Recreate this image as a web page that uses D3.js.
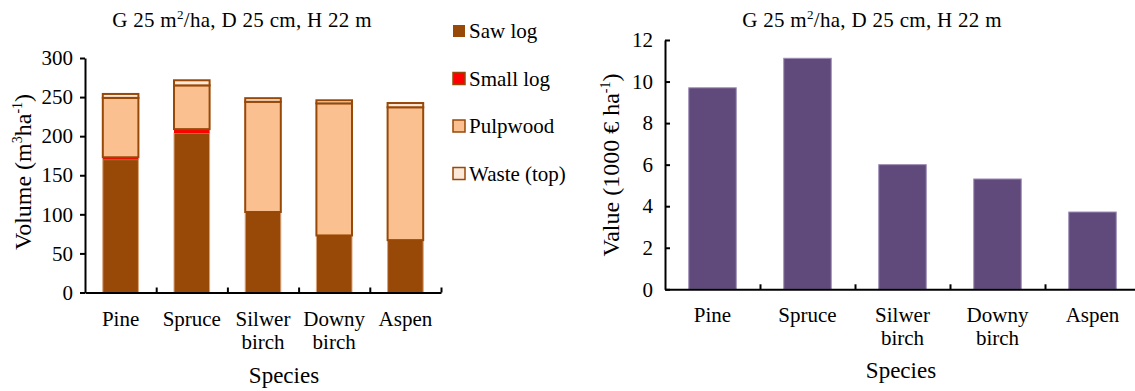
<!DOCTYPE html>
<html>
<head>
<meta charset="utf-8">
<script src="https://cdn.jsdelivr.net/npm/d3@7"></script>
<style>
  body { margin: 0; background: #fff; }
  svg text { font-family: "Liberation Serif", "Times New Roman", serif; }
</style>
</head>
<body>
<svg id="chart" width="1135" height="391"></svg>
<script>
// Daten
const species = ["Pine", "Spruce", "Silwer birch", "Downy birch", "Aspen"];
const speciesLines = [["Pine"], ["Spruce"], ["Silwer", "birch"], ["Downy", "birch"], ["Aspen"]];
const assortments = ["Saw log", "Small log", "Pulpwood", "Waste (top)"];
const sawLog = [170, 204, 103, 73, 67];
const smallLog = [3, 5, 0, 0, 0];
const pulpwood = [76, 56, 141, 169, 170];
const waste = [5, 6.5, 4.6, 3.9, 5.4];
const volumeTicks = [0, 50, 100, 150, 200, 250, 300];
const value = [9.70, 11.12, 6.0, 5.31, 3.72];
const valueTicks = [0, 2, 4, 6, 8, 10, 12];

const fills = ["#984807", "#ff0000", "#fac090", "#fde9d9"];
const strokes = ["#d9a37a", "none", "#984807", "#984807"];
const strokeW = [1, 0, 2, 2];

const FONT = "Liberation Serif, Times New Roman, serif";
const svg = d3.select("#chart").attr("font-family", FONT);

function title(g, x, y) {
    const t = g.append("text")
        .attr("x", x).attr("y", y)
        .attr("text-anchor", "middle")
        .attr("font-size", "21px")
        .attr("letter-spacing", "0.3px");
    t.append("tspan").text("G 25 m");
    t.append("tspan").attr("font-size", "13px").attr("dy", -8).text("2");
    t.append("tspan").attr("dy", 8).text("/ha, D 25 cm, H 22 m");
}

function categoryLabels(g, x, y) {
    speciesLines.forEach((lines, i) => {
        lines.forEach((s, j) => {
            g.append("text")
                .attr("x", x(species[i]) + x.bandwidth() / 2)
                .attr("y", y + j * 23)
                .attr("text-anchor", "middle")
                .attr("font-size", "21px")
                .text(s);
        });
    });
}

function styleAxis(ax) {
    ax.attr("font-family", FONT);
    ax.select(".domain").attr("stroke-width", 2);
    ax.selectAll(".tick line").attr("stroke-width", 2);
    ax.selectAll("text").attr("font-size", "21px").attr("fill", "#000");
}

// ---------- Linkes Diagramm: Volumen ----------
const L = { left: 85, right: 441, top: 58, bottom: 292.5 };
const xL = d3.scaleBand().domain(species).range([L.left, L.right])
    .paddingInner(0.5).paddingOuter(0.25);
const yL = d3.scaleLinear().domain([0, 300]).range([L.bottom, L.top]);

const stackData = species.map((s, i) => ({
    species: s,
    "Saw log": sawLog[i],
    "Small log": smallLog[i],
    "Pulpwood": pulpwood[i],
    "Waste (top)": waste[i]
}));
const series = d3.stack().keys(assortments)(stackData);

const left = svg.append("g");
series.forEach((ser, k) => {
    left.append("g")
        .selectAll("rect")
        .data(ser.filter(d => d[1] - d[0] > 0))
        .join("rect")
        .attr("x", d => xL(d.data.species))
        .attr("width", xL.bandwidth())
        .attr("y", d => yL(d[1]))
        .attr("height", d => yL(d[0]) - yL(d[1]))
        .attr("fill", fills[k])
        .attr("stroke", strokes[k])
        .attr("stroke-width", strokeW[k]);
});

// Achsen links
const yAxisL = left.append("g")
    .attr("transform", `translate(${L.left},0)`)
    .call(d3.axisLeft(yL).tickValues(volumeTicks).tickSize(5).tickSizeOuter(0).tickPadding(7));
styleAxis(yAxisL);

const xTicksL = d3.scaleLinear().domain([0, 5]).range([L.left, L.right]);
const xAxisL = left.append("g")
    .attr("transform", `translate(0,${L.bottom})`)
    .call(d3.axisBottom(xTicksL).ticks(5).tickSize(-5).tickSizeOuter(0).tickFormat(""));
styleAxis(xAxisL);
xAxisL.selectAll(".tick").filter(d => d === 0).remove();

categoryLabels(left, xL, 326);
title(left, 242, 27);

left.append("text")
    .attr("x", 284).attr("y", 383)
    .attr("text-anchor", "middle")
    .attr("font-size", "23px")
    .text("Species");

const yLabL = left.append("text")
    .attr("transform", "translate(31,172) rotate(-90)")
    .attr("text-anchor", "middle")
    .attr("font-size", "24px");
yLabL.append("tspan").text("Volume (m");
yLabL.append("tspan").attr("font-size", "14px").attr("dy", -9).text("3");
yLabL.append("tspan").attr("dy", 9).text("ha");
yLabL.append("tspan").attr("font-size", "14px").attr("dy", -9).text("-1");
yLabL.append("tspan").attr("dy", 9).text(")");

// Legende
const legend = left.append("g").attr("transform", "translate(453,31)");
assortments.forEach((a, i) => {
    const row = legend.append("g").attr("transform", `translate(0,${i * 47.5})`);
    row.append("rect")
        .attr("x", 0).attr("y", -6)
        .attr("width", 12).attr("height", 12)
        .attr("fill", fills[i])
        .attr("stroke", i === 0 ? "none" : "#984807")
        .attr("stroke-width", 1.5);
    row.append("text")
        .attr("x", 16).attr("y", 7)
        .attr("font-size", "21px")
        .text(a);
});

// ---------- Rechtes Diagramm: Wert ----------
const R = { left: 665, right: 1140, top: 40, bottom: 289.3 };
const xR = d3.scaleBand().domain(species).range([R.left, R.right])
    .paddingInner(0.5).paddingOuter(0.25);
const yR = d3.scaleLinear().domain([0, 12]).range([R.bottom, R.top]);

const right = svg.append("g");
right.append("g")
    .selectAll("rect")
    .data(value)
    .join("rect")
    .attr("x", (d, i) => xR(species[i]))
    .attr("width", xR.bandwidth())
    .attr("y", d => yR(d))
    .attr("height", d => yR(0) - yR(d))
    .attr("fill", "#604a7b")
    .attr("stroke", "#9d8cb5")
    .attr("stroke-width", 1);

const yAxisR = right.append("g")
    .attr("transform", `translate(${R.left},0)`)
    .call(d3.axisLeft(yR).tickValues(valueTicks).tickSize(-5).tickSizeOuter(0).tickPadding(12));
styleAxis(yAxisR);

const xTicksR = d3.scaleLinear().domain([0, 5]).range([R.left, R.right]);
const xAxisR = right.append("g")
    .attr("transform", `translate(0,${R.bottom})`)
    .call(d3.axisBottom(xTicksR).ticks(5).tickSize(-5).tickSizeOuter(0).tickFormat(""));
styleAxis(xAxisR);
xAxisR.selectAll(".tick").filter(d => d === 0).remove();

categoryLabels(right, xR, 322);
title(right, 872, 27);

right.append("text")
    .attr("x", 901).attr("y", 378)
    .attr("text-anchor", "middle")
    .attr("font-size", "23px")
    .text("Species");

const yLabR = right.append("text")
    .attr("transform", "translate(619,165) rotate(-90)")
    .attr("text-anchor", "middle")
    .attr("font-size", "24px");
yLabR.append("tspan").text("Value (1000 € ha");
yLabR.append("tspan").attr("font-size", "14px").attr("dy", -9).text("-1");
yLabR.append("tspan").attr("dy", 9).text(")");
</script>
</body>
</html>
